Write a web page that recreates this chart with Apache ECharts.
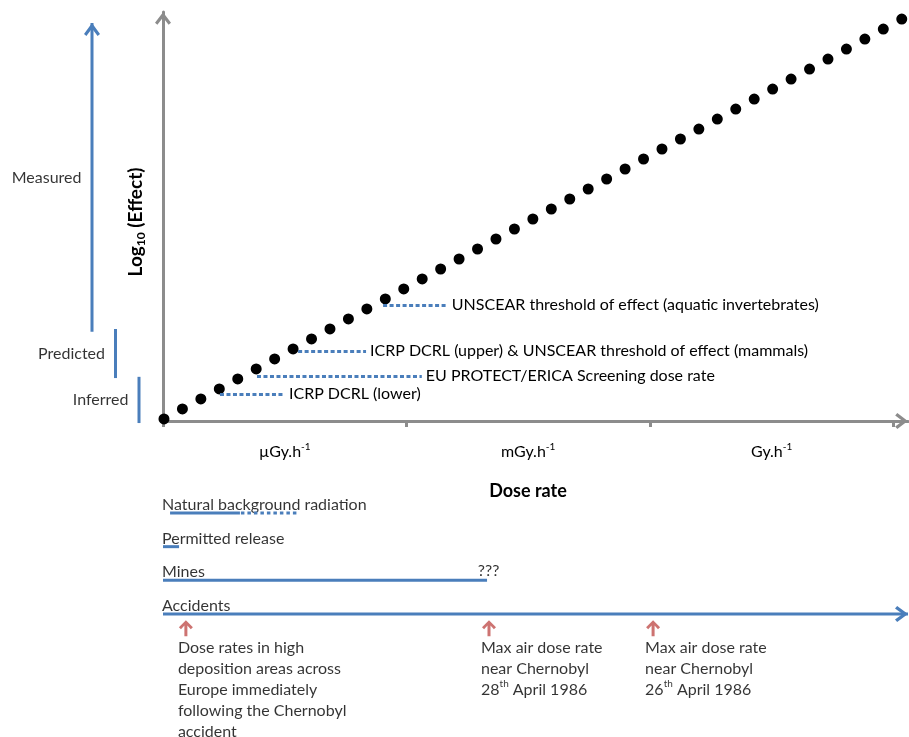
<!DOCTYPE html>
<html><head><meta charset="utf-8">
<script src="https://cdn.jsdelivr.net/npm/echarts@6/dist/echarts.min.js"></script>
<style>html,body{margin:0;padding:0;background:#fff}#c{width:909px;height:737px}</style>
</head><body><div id="c"></div>
<script>
// ---- data ----
const doseUnits = ['µGy.h', 'mGy.h', 'Gy.h'];
const doseTicks = [0, 1, 2, 3];
const doseLabelAt = [0.5, 1.5, 2.5];
const effectLine = [[0.004, 0.05], [3.035, 9.83]];
const thresholdNames = ['ICRP DCRL (lower)', 'EU PROTECT/ERICA Screening dose rate',
  'ICRP DCRL (upper) & UNSCEAR threshold of effect (mammals)',
  'UNSCEAR threshold of effect (aquatic invertebrates)'];
const thresholdFrom = [0.234, 0.386, 0.555, 0.904];
const thresholdTo = [0.501, 1.063, 0.834, 1.170];
const thresholdEffect = [0.66, 1.10, 1.71, 2.84];
const evidenceNames = ['Measured', 'Predicted', 'Inferred'];
const evidenceLow = [2.18, 1.05, -0.05];
const evidenceHigh = [9.73, 2.25, 1.08];
const sourceNames = ['Natural background radiation', 'Permitted release', 'Mines', 'Accidents'];
const sourceFrom = [0.029, 0, 0, 0];
const sourceTo = [0.316, 0.066, 1.331, 3.06];
const naturalUncertain = [0.320, 0.555];
const minesNote = '???';
const eventDose = [0.094, 1.339, 2.013];
const eventText = [
  'Dose rates in high\ndeposition areas across\nEurope immediately\nfollowing the Chernobyl\naccident',
  'Max air dose rate\nnear Chernobyl\n28{sup|th} April 1986',
  'Max air dose rate\nnear Chernobyl\n26{sup|th} April 1986'
];

// ---- styles ----
const FONT = 'Lato';
const GRAY = '#8c8c8c', BLUE = '#4a7ebb', RED = '#c0504d', INK = '#000';
const chevron = 'path://M8,0 L16,10.5 L13.6,12.6 L8,5.2 L2.4,12.6 L0,10.5 Z';
const upArrow = 'path://M7,0 L14,7 L11.9,9.1 L8.5,5.4 L8.5,16 L5.5,16 L5.5,5.4 L2.1,9.1 L0,7 Z';

const chart = echarts.init(document.getElementById('c'));

const series = [];
// dotted effect line + threshold annotations
series.push({
  type: 'line', xAxisIndex: 0, yAxisIndex: 0, data: effectLine, symbol: 'none', clip: false,
  silent: true, z: 3,
  lineStyle: { color: '#000', width: 11, type: [0, 20.98], cap: 'round' },
  markLine: {
    silent: true, symbol: 'none', animation: false,
    lineStyle: { color: BLUE, width: 3, type: [4, 2.5] },
    label: { show: true, position: 'end', distance: 4, color: INK, fontSize: 16, fontFamily: FONT,
      formatter: p => p.name },
    data: thresholdNames.map((n, i) => [
      { name: n, coord: [thresholdFrom[i], thresholdEffect[i]] },
      { coord: [thresholdTo[i], thresholdEffect[i]] }
    ])
  }
});
// evidence bars (left panel)
evidenceNames.forEach((n, i) => {
  const top = { value: [i, evidenceHigh[i]], symbol: 'none' };
  if (i === 0) {
    top.symbol = chevron; top.symbolSize = [16, 13]; top.symbolOffset = [0, 6.5];
  }
  series.push({
    type: 'line', xAxisIndex: 1, yAxisIndex: 1, clip: false, silent: true,
    data: [{ value: [i, evidenceLow[i]], symbol: 'none' }, top],
    showSymbol: true, showAllSymbol: true,
    itemStyle: { color: BLUE },
    lineStyle: { color: BLUE, width: 3 }
  });
});
series.push({
  type: 'scatter', xAxisIndex: 1, yAxisIndex: 1, symbolSize: 1, silent: true, clip: false,
  itemStyle: { color: 'transparent' },
  data: evidenceNames.map((n, i) => ({ name: n, value: [i, (evidenceLow[i] + evidenceHigh[i]) / 2] })),
  label: { show: true, position: 'left', distance: 10, color: INK, fontSize: 16, fontFamily: FONT,
    formatter: p => p.name }
});
// source ranges (bottom panel)
sourceNames.forEach((n, i) => {
  const end = { value: [sourceTo[i], i], symbol: 'none' };
  if (i === 3) {
    end.symbol = chevron; end.symbolSize = [16, 13]; end.symbolRotate = -90; end.symbolOffset = [-6.5, 0];
  }
  series.push({
    type: 'line', xAxisIndex: 2, yAxisIndex: 2, clip: false, silent: true,
    data: [{ value: [sourceFrom[i], i], symbol: 'none' }, end],
    itemStyle: { color: BLUE },
    lineStyle: { color: BLUE, width: 3 }
  });
});
series.push({
  type: 'line', xAxisIndex: 2, yAxisIndex: 2, clip: false, silent: true, symbol: 'none',
  data: [[naturalUncertain[0], 0], [naturalUncertain[1], 0]],
  lineStyle: { color: BLUE, width: 3, type: [3.5, 3] }
});
series.push({
  type: 'scatter', xAxisIndex: 2, yAxisIndex: 2, symbolSize: 1, silent: true, clip: false,
  itemStyle: { color: 'transparent' },
  data: sourceNames.map((n, i) => ({ name: n, value: [0, i] })),
  label: { show: true, position: [-0.5, -7.5], align: 'left', verticalAlign: 'middle',
    color: INK, fontSize: 16, fontFamily: FONT, formatter: p => p.name }
});
series.push({
  type: 'scatter', xAxisIndex: 2, yAxisIndex: 2, symbolSize: 1, silent: true, clip: false,
  itemStyle: { color: 'transparent' },
  data: [{ name: minesNote, value: [sourceTo[2], 2] }],
  label: { show: true, position: [2, -9], align: 'center', verticalAlign: 'middle',
    color: INK, fontSize: 16, fontFamily: FONT, formatter: p => p.name }
});
// accident events
series.push({
  type: 'scatter', xAxisIndex: 2, yAxisIndex: 2, silent: true, clip: false,
  symbol: upArrow, symbolSize: [14, 16],
  itemStyle: { color: RED },
  data: eventDose.map((d, i) => ({ name: String(i), value: [d, 3.42] })),
  label: { show: true, position: [-1, 17], align: 'left', verticalAlign: 'top',
    color: INK, fontSize: 16, lineHeight: 21, fontFamily: FONT,
    formatter: p => eventText[+p.name],
    rich: { sup: { fontSize: 10, lineHeight: 12, verticalAlign: 'top', color: INK, fontFamily: FONT } } }
});

const option = {
  animation: false,
  textStyle: { fontFamily: FONT, color: INK },
  grid: [
    { left: 163, top: 12, width: 745, height: 409 },
    { left: 92, top: 12, width: 47, height: 409 },
    { left: 163, top: 513, width: 745, height: 101 }
  ],
  xAxis: [
    {
      gridIndex: 0, type: 'value', min: 0, max: 3.06,
      axisLine: { show: true, lineStyle: { color: GRAY, width: 3 },
        symbol: ['none', chevron], symbolSize: [16, 13], symbolOffset: [0, -6.5] },
      axisTick: { show: true, customValues: doseTicks, length: 6, lineStyle: { color: GRAY, width: 3 } },
      splitLine: { show: false },
      axisLabel: {
        show: true, customValues: doseLabelAt, margin: 21,
        formatter: v => '{m|' + doseUnits[Math.floor(v)] + '}{s|-1}',
        rich: {
          m: { fontSize: 16, lineHeight: 20, color: INK, fontFamily: FONT },
          s: { fontSize: 10, lineHeight: 11, verticalAlign: 'top', color: INK, fontFamily: FONT }
        }
      },
      name: 'Dose rate', nameLocation: 'middle', nameGap: 60,
      nameTextStyle: { fontWeight: 'bold', fontSize: 18, lineHeight: 20, color: INK, fontFamily: FONT,
        padding: [0, 15, 0, 0] }
    },
    { gridIndex: 1, type: 'category', data: evidenceNames, boundaryGap: false, show: false },
    { gridIndex: 2, type: 'value', min: 0, max: 3.06, show: false }
  ],
  yAxis: [
    {
      gridIndex: 0, type: 'value', min: 0, max: 10,
      axisLine: { show: true, lineStyle: { color: GRAY, width: 3 },
        symbol: ['none', chevron], symbolSize: [16, 13], symbolOffset: [0, -6.5] },
      axisTick: { show: false }, axisLabel: { show: false }, splitLine: { show: false },
      name: '{b|Log}{s|10}{b| (Effect)}', nameLocation: 'middle', nameRotate: 90, nameGap: 16,
      nameTextStyle: {
        padding: [0, 11, 0, 0],
        rich: {
          b: { fontSize: 19, fontWeight: 'bold', lineHeight: 23, color: INK, fontFamily: FONT },
          s: { fontSize: 12, fontWeight: 'bold', lineHeight: 12, verticalAlign: 'bottom', color: INK, fontFamily: FONT }
        }
      }
    },
    { gridIndex: 1, type: 'value', min: 0, max: 10, show: false },
    { gridIndex: 2, type: 'value', min: 0, max: 3, inverse: true, show: false }
  ],
  series
};
chart.setOption(option);
</script></body></html>
